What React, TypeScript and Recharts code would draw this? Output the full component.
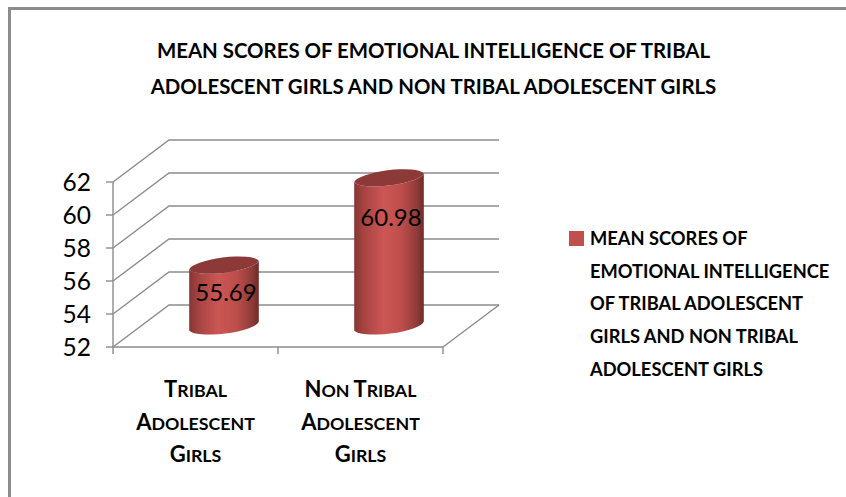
import { Bar, BarChart, CartesianGrid, LabelList, Legend, XAxis, YAxis } from "recharts";

const FONT = "Lato, sans-serif";
const AXIS_GREY = "#8c8c8c";
const RED = "#c0504d";

const TITLE_LINES = [
  "MEAN SCORES OF EMOTIONAL INTELLIGENCE OF TRIBAL",
  "ADOLESCENT GIRLS AND NON TRIBAL ADOLESCENT GIRLS",
];
const LEGEND_LINES = [
  "MEAN SCORES OF",
  "EMOTIONAL INTELLIGENCE",
  "OF TRIBAL ADOLESCENT",
  "GIRLS AND NON TRIBAL",
  "ADOLESCENT GIRLS",
];
const CATEGORIES = ["Tribal\nAdolescent\nGirls", "Non Tribal\nAdolescent\nGirls"];
const SCORES = [55.69, 60.98];
const Y_TICKS = [52, 54, 56, 58, 60, 62];

const rows = CATEGORIES.map((name, i) => ({ name, score: SCORES[i] }));

// fake 3d: how far the back wall sits from the front of the box
const DEPTH_X = 56;
const DEPTH_Y = 42;

function WallLine(props: any) {
  const { x1, x2, y1, index } = props;
  const bx = x1 + DEPTH_X;
  const by = y1 - DEPTH_Y;
  const isFloor = y1 === Math.max(y1, props.offset ? props.offset.top + props.offset.height : y1);
  return (
    <g key={index} fill="none" stroke={AXIS_GREY} strokeWidth={1.4}>
      <polyline points={`${x1},${y1} ${bx},${by} ${x2 + DEPTH_X},${by}`} />
      {isFloor ? <line x1={x2} y1={y1} x2={x2 + DEPTH_X} y2={by} /> : null}
    </g>
  );
}

function Cylinder(props: any) {
  const { x, y, width, height, index } = props;
  const cx = x + width / 2 + DEPTH_X / 2;
  const top = y - DEPTH_Y / 2;
  const bottom = y + height - DEPTH_Y / 2;
  const rx = width / 2 + 0.3;
  const ry = 8.6;
  const dx = width / 2 - 0.2;
  const dy = 4.4;
  const id = `cyl-${index}`;
  const arcs = `A${rx} ${ry} -7`;
  return (
    <g>
      <defs>
        <linearGradient id={id} x1="0" y1="0" x2="1" y2="0">
          <stop offset="0" stopColor="#873533" />
          <stop offset="0.14" stopColor="#a64442" />
          <stop offset="0.42" stopColor="#cc5654" />
          <stop offset="0.68" stopColor="#bd4e4b" />
          <stop offset="0.9" stopColor="#8f3b39" />
          <stop offset="1" stopColor="#6e2b29" />
        </linearGradient>
      </defs>
      <path
        d={`M${cx - dx} ${top + dy} L${cx - dx} ${bottom + dy} ${arcs} 0 0 ${cx + dx} ${bottom - dy} L${cx + dx} ${top - dy} ${arcs} 0 1 ${cx - dx} ${top + dy} Z`}
        fill={`url(#${id})`}
      />
      <path
        d={`M${cx - dx} ${top + dy} ${arcs} 0 0 ${cx + dx} ${top - dy} ${arcs} 0 0 ${cx - dx} ${top + dy} Z`}
        fill="#8d3937"
      />
    </g>
  );
}

function ScoreLabel(props: any) {
  const { x, y, width, height, value } = props;
  return (
    <text
      x={x + width / 2 + DEPTH_X / 2 + 2}
      y={y - DEPTH_Y / 2 + 18 + height * 0.14}
      textAnchor="middle"
      dominantBaseline="central"
      fontFamily={FONT}
      fontSize={24}
      fill="#000"
    >
      {Number(value).toFixed(2)}
    </text>
  );
}

function SmallCapsWord({ word }: { word: string }) {
  return (
    <>
      <tspan fontSize={22}>{word[0].toUpperCase()}</tspan>
      <tspan fontSize={17.8}>{word.slice(1).toUpperCase()}</tspan>
    </>
  );
}

function CategoryTick(props: any) {
  const { x, y, payload, width, visibleTicksCount, index } = props;
  const band = width / visibleTicksCount;
  const axisY = y - 8;
  const lines: string[] = String(payload.value).split("\n");
  return (
    <g>
      <line x1={x - band / 2} y1={axisY} x2={x - band / 2} y2={axisY + 7} stroke={AXIS_GREY} strokeWidth={1.4} />
      {index === visibleTicksCount - 1 ? (
        <line x1={x + band / 2} y1={axisY} x2={x + band / 2} y2={axisY + 7} stroke={AXIS_GREY} strokeWidth={1.4} />
      ) : null}
      {lines.map((line, i) => (
        <text
          key={line}
          x={x}
          y={axisY + 50 + i * 32.5}
          textAnchor="middle"
          fontFamily={FONT}
          fontWeight={700}
          fill="#000"
        >
          {line.split(" ").map((word, j) => (
            <tspan key={word}>
              {j > 0 ? " " : ""}
              <SmallCapsWord word={word} />
            </tspan>
          ))}
        </text>
      ))}
    </g>
  );
}

function LegendBox() {
  return (
    <div style={{ display: "flex", fontFamily: FONT, fontWeight: 700, fontSize: 18.3, color: "#000" }}>
      <div style={{ width: 15, height: 15, background: RED, marginTop: 9, marginRight: 6 }} />
      <div style={{ lineHeight: "32.7px", whiteSpace: "nowrap" }}>
        {LEGEND_LINES.map((line) => (
          <div key={line}>{line}</div>
        ))}
      </div>
    </div>
  );
}

export default function App() {
  return (
    <div style={{ position: "absolute", left: 0, top: 0, width: 846, height: 497, background: "#fff", overflow: "hidden" }}>
      <div
        style={{
          position: "absolute",
          left: 8,
          top: 7,
          width: 840,
          height: 492,
          borderLeft: `3px solid ${AXIS_GREY}`,
          borderTop: `3px solid ${AXIS_GREY}`,
        }}
      />
      {TITLE_LINES.map((line, i) => (
        <div
          key={line}
          style={{
            position: "absolute",
            left: 0,
            width: 867,
            top: 32 + i * 36,
            lineHeight: "36px",
            textAlign: "center",
            fontFamily: FONT,
            fontWeight: 700,
            fontSize: 20.4,
            color: "#000",
          }}
        >
          {line}
        </div>
      ))}
      <BarChart
        width={846}
        height={497}
        data={rows}
        margin={{ top: 182, right: 403, bottom: 50, left: 53 }}
        style={{ position: "absolute", left: 0, top: 0 }}
      >
        <CartesianGrid vertical={false} horizontal={(p: any) => <WallLine {...p} />} />
        <XAxis
          dataKey="name"
          height={100}
          interval={0}
          tickLine={false}
          tick={<CategoryTick />}
          axisLine={{ stroke: AXIS_GREY, strokeWidth: 1.4 }}
        />
        <YAxis
          width={60}
          domain={[52, 62]}
          ticks={Y_TICKS}
          interval={0}
          tickSize={7}
          tickMargin={15}
          tick={{ fill: "#000", fontSize: 24.5, fontFamily: FONT }}
          tickLine={{ stroke: AXIS_GREY, strokeWidth: 1.4 }}
          axisLine={{ stroke: AXIS_GREY, strokeWidth: 1.4 }}
        />
        <Legend
          layout="vertical"
          verticalAlign="middle"
          align="center"
          wrapperStyle={{ position: "absolute", left: 569, top: 222, width: 270 }}
          content={() => <LegendBox />}
        />
        <Bar dataKey="score" fill={RED} barSize={70} isAnimationActive={false} shape={<Cylinder />}>
          <LabelList dataKey="score" content={(p: any) => <ScoreLabel {...p} />} />
        </Bar>
      </BarChart>
    </div>
  );
}
